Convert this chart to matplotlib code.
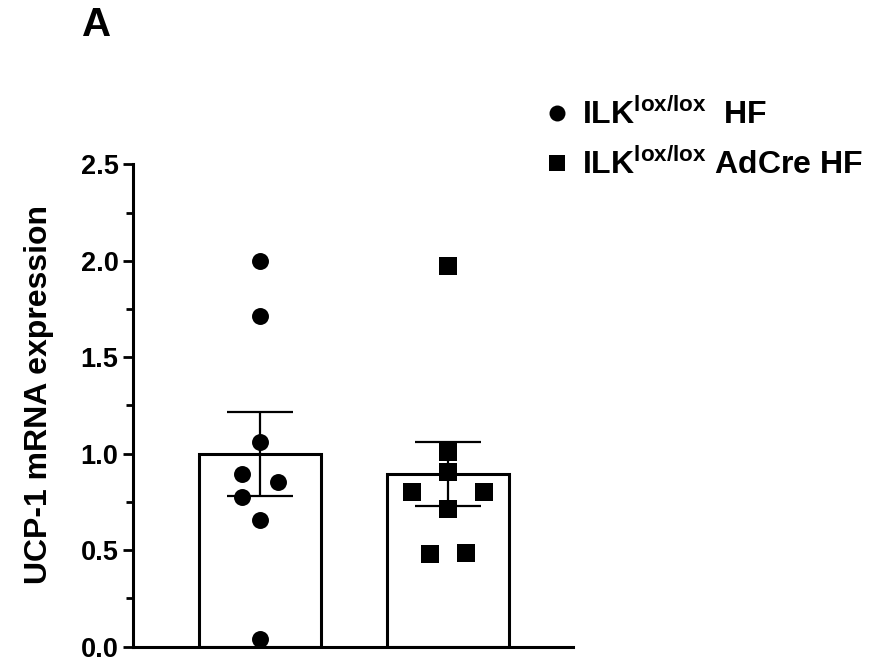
import matplotlib
matplotlib.use("Agg")
import matplotlib.pyplot as plt
from matplotlib.lines import Line2D
from matplotlib.ticker import MultipleLocator
import numpy as np

plt.rcParams['font.family'] = ['Liberation Sans', 'DejaVu Sans']
plt.rcParams['font.weight'] = 'bold'
plt.rcParams['mathtext.fontset'] = 'custom'
plt.rcParams['mathtext.rm'] = 'Liberation Sans:bold'
plt.rcParams['mathtext.bf'] = 'Liberation Sans:bold'

groups = ['ILK$^{\\mathrm{lox/lox}}$  HF', 'ILK$^{\\mathrm{lox/lox}}$ AdCre HF']
ctrl_vals = [2.00, 1.715, 1.06, 0.895, 0.852, 0.775, 0.656, 0.038]
cre_vals = [1.972, 1.01, 0.907, 0.80, 0.80, 0.713, 0.479, 0.484]
# horizontal spread of the dots (layout only)
ctrl_offsets = [0, 0, 0, -0.095, 0.095, -0.095, 0, 0]
cre_offsets = [0, 0, 0, -0.19, 0.19, 0, -0.095, 0.095]

values = [ctrl_vals, cre_vals]
offsets = [ctrl_offsets, cre_offsets]
markers = ['o', 's']
msizes = [12.2, 13.5]

fig = plt.figure(figsize=(8.76, 6.63), dpi=100)
ax = fig.add_axes([0.1518, 0.0246, 0.502, 0.7276])

for i, vals in enumerate(values):
    vals = np.array(vals)
    mean = vals.mean()
    sem = vals.std(ddof=1) / np.sqrt(len(vals))
    ax.bar(i, mean, width=0.645, color='white', edgecolor='black', linewidth=2.2, zorder=1)
    ax.errorbar(i, mean, yerr=sem, color='black', elinewidth=1.6, capsize=24,
                capthick=1.6, zorder=2)
    ax.plot(i + np.array(offsets[i]), vals, linestyle='none', marker=markers[i],
            markersize=msizes[i], color='black', markeredgewidth=0, zorder=3)

ax.set_xlim(-0.672, 1.66)
ax.set_ylim(0, 2.5)
ax.set_xticks([])
ax.yaxis.set_major_locator(MultipleLocator(0.5))
ax.yaxis.set_minor_locator(MultipleLocator(0.25))
ax.yaxis.set_major_formatter(matplotlib.ticker.FormatStrFormatter('%.1f'))
ax.tick_params(axis='y', which='major', length=7.5, width=2, labelsize=19.5, pad=3)
ax.tick_params(axis='y', which='minor', length=5, width=2)
for lab in ax.get_yticklabels():
    lab.set_fontweight('bold')
ax.spines['top'].set_visible(False)
ax.spines['right'].set_visible(False)
ax.spines['left'].set_linewidth(2.2)
ax.spines['bottom'].set_linewidth(2.2)
ax.patch.set_visible(False)

fig.text(0.045, 1 - 395 / 663, 'UCP-1 mRNA expression', rotation=90, fontsize=23,
         fontweight='bold', ha='center', va='center')
fig.text(82 / 876, 1 - 36 / 663, 'A', fontsize=29, fontweight='bold', ha='left',
         va='baseline')

handles = [Line2D([], [], linestyle='none', marker=m, markersize=11.5, color='black',
                  markeredgewidth=0) for m in markers]
fig.legend(handles, groups, loc='upper left', bbox_to_anchor=(525 / 876, 1 - 86 / 663),
           frameon=False, fontsize=23, handletextpad=0.2, labelspacing=0.52,
           borderaxespad=0, handlelength=1.2)

fig.savefig('out.png', dpi=100)
